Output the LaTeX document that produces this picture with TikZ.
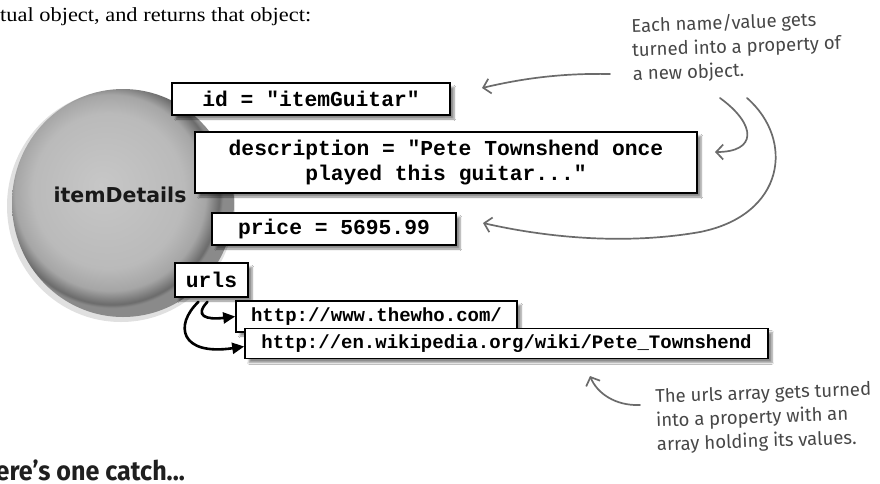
\documentclass[tikz,border=0pt]{standalone}
\usepackage{graphicx}
\usepackage{fontspec}
\setmainfont{Liberation Serif}
\newfontfamily\codefont{Liberation Mono}
\newfontfamily\namefont{DejaVu Sans}
\newfontfamily\handfont{Fira Sans}
\usetikzlibrary{arrows.meta, shadows.blur}

\pgfdeclareradialshading{ballshade}{\pgfpoint{-5bp}{4bp}}{%
  color(0bp)=(black!22); color(17bp)=(black!27); color(21.5bp)=(black!35);
  color(24.3bp)=(black!58); color(25bp)=(black!46); color(50bp)=(black!46)}

\begin{document}
\begin{tikzpicture}[
    x=1pt, y=-1pt,
    box/.style={rectangle, draw=black, line width=1.6pt, fill=white,
                inner sep=0pt, align=center,
                font=\codefont\bfseries\fontsize{21.3}{25}\selectfont,
                blur shadow={shadow xshift=4pt, shadow yshift=-4pt,
                             shadow blur steps=6, shadow opacity=45}},
    urlbox/.style={box, font=\codefont\bfseries\fontsize{19}{22}\selectfont},
    link/.style={-{Triangle[length=12pt, width=11pt]}, line width=2.6pt,
                 line cap=round},
    pointer/.style={-{Straight Barb[length=7pt, width=15pt]}, line width=1.7pt,
                    draw=black!58, line cap=round},
    note/.style={font=\handfont\fontsize{18.5}{24}\selectfont, text=black!72,
                 align=left, inner sep=0pt}
  ]

  \useasboundingbox (0,0) rectangle (880,483);
  \clip (0,0) rectangle (880,483);
  \fill[white] (0,0) rectangle (880,483);

  % the object itself
  \fill[black!12] (121,206) ellipse [x radius=114, y radius=116];
  \shade[shading=ballshade] (123,203) ellipse [x radius=111, y radius=114];
  \node[font=\namefont\bfseries\fontsize{20.5}{24}\selectfont, text=black!90]
       (details) at (120,195) {itemDetails};

  % its properties
  \node[box, minimum width=278pt, minimum height=32pt] (id)    at (311,99)    {id = "itemGuitar"};
  \node[box, minimum width=502pt, minimum height=61pt] (desc)  at (446,162.5) {description = "Pete Townshend once\\played this guitar..."};
  \node[box, minimum width=244pt, minimum height=32pt] (price) at (334,229)   {price = 5695.99};
  \node[box, minimum width=73pt,  minimum height=34pt] (urls)  at (211.5,280) {urls};

  \node[urlbox, minimum width=281pt, minimum height=31pt] (who)  at (376.5,316.5) {http://www.thewho.com/};
  \node[urlbox, minimum width=523pt, minimum height=30pt] (wiki) at (506.5,343.5) {http://en.wikipedia.org/wiki/Pete\_Townshend};

  % array values
  \draw[link] ([xshift=-4pt, yshift=-4pt]urls.south)
      .. controls (194,316) and (206,320) .. (who.west);
  \draw[link] ([xshift=-13pt, yshift=-4pt]urls.south)
      .. controls (174,325) and (180,356) .. ([yshift=-3pt]wiki.west);

  % annotations
  \node[anchor=base west, inner sep=0pt, font=\fontsize{20}{24}\selectfont]
       (intro) at (0,21) {\scalebox{1.12}[1]{tual object, and returns that object:}};
  \node[note, anchor=west, rotate=2] (note1) at (632,51)
       {Each name/value gets\\turned into a property of\\a new object.};
  \node[note, anchor=west, rotate=2] (note2) at (656,422)
       {The urls array gets turned\\into a property with an\\array holding its values.};
  \node[anchor=base east, inner sep=0pt, text=black!88,
        font=\handfont\bfseries\fontsize{27}{30}\selectfont]
       (catch) at (185,480) {\scalebox{0.93}[1]{Here’s one catch...}};

  \coordinate (a1) at (610,74);  \coordinate (a1tip) at (482,88);
  \coordinate (b1) at (720,98);  \coordinate (b1tip) at (715,152);
  \coordinate (c1) at (747,98);  \coordinate (c1tip) at (483,223);
  \coordinate (d1) at (640,405); \coordinate (d1tip) at (590,376);

  % pointers from the notes
  \draw[pointer] (a1) .. controls (560,73) and (520,79) .. (a1tip);
  \draw[pointer] (b1) .. controls (757,125) and (757,152) .. (b1tip);
  \draw[pointer] (c1) .. controls (795,140) and (785,215) .. (700,232)
                      .. controls (620,246) and (540,236) .. (c1tip);
  \draw[pointer] (d1) .. controls (615,406) and (597,393) .. (d1tip);

\end{tikzpicture}
\end{document}
